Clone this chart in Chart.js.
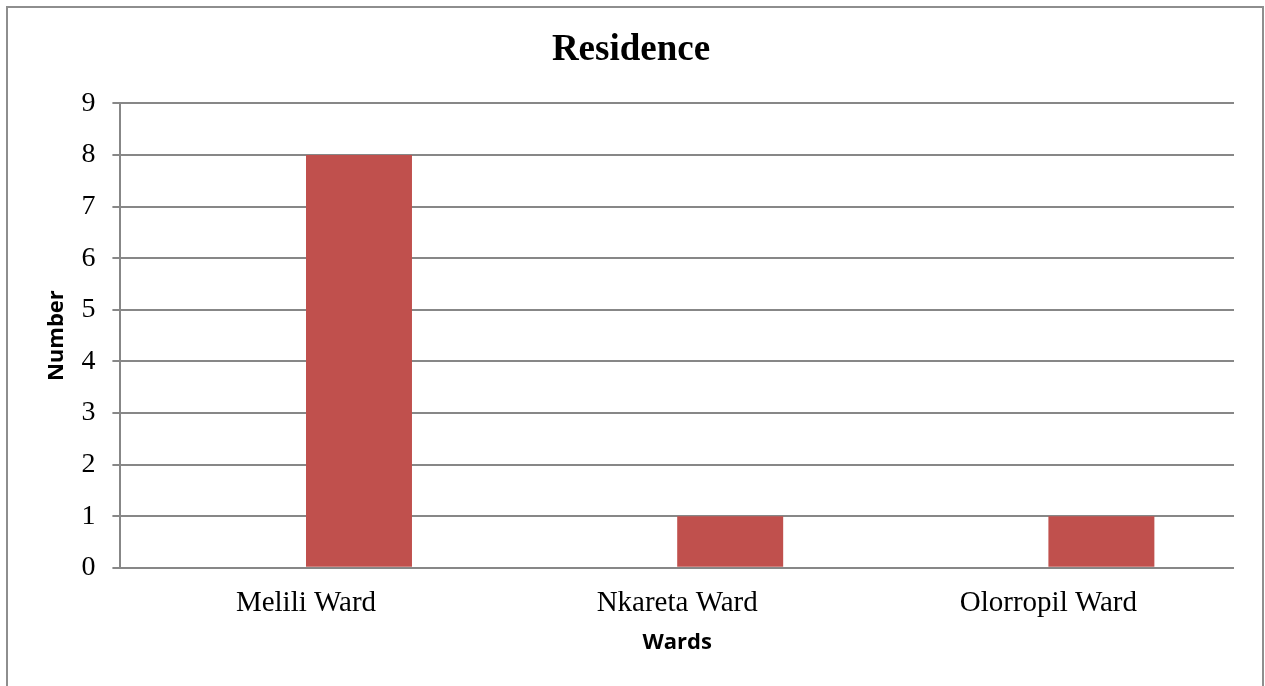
<!DOCTYPE html>
<html>
<head>
<meta charset="utf-8">
<title>Residence</title>
<script src="https://cdn.jsdelivr.net/npm/chart.js@4.4.1/dist/chart.umd.min.js"></script>
<style>
    html, body { margin: 0; padding: 0; background: #fff; overflow: hidden; }
    #frame {
        position: absolute;
        left: 6px;
        top: 6px;
        width: 1254px;
        height: 700px;
        border: 2px solid #8e8e8e;
        background: #fff;
    }
    #chartBox { position: relative; width: 1254px; height: 680px; }
</style>
</head>
<body>
<div id="frame">
    <div id="chartBox"><canvas id="residenceChart"></canvas></div>
</div>
<script>
/* Residence by ward - clustered bar chart (first series is empty, as in the source workbook) */
var wards = ['Melili Ward', 'Nkareta Ward', 'Olorropil Ward'];
var blankSeries = [null, null, null];
var residents = [8, 1, 1];
var yTicks = [0, 1, 2, 3, 4, 5, 6, 7, 8, 9];

var gridGray = '#878787';
var serif = "'Liberation Serif', 'Times New Roman', serif";
var sans = "'Open Sans', 'Liberation Sans', sans-serif";

document.addEventListener('DOMContentLoaded', function () {
    var ctx = document.getElementById('residenceChart');

    new Chart(ctx, {
        type: 'bar',
        data: {
            labels: wards,
            datasets: [
                {
                    label: '',
                    data: blankSeries,
                    backgroundColor: 'rgba(0,0,0,0)',
                    borderWidth: 0
                },
                {
                    label: 'Number',
                    data: residents,
                    backgroundColor: '#C0504D',
                    borderWidth: 0
                }
            ]
        },
        options: {
            responsive: true,
            maintainAspectRatio: false,
            animation: false,
            categoryPercentage: 0.571,
            barPercentage: 1.0,
            layout: { padding: { left: 20, right: 28, top: 0, bottom: 32 } },
            plugins: {
                legend: { display: false },
                tooltip: { enabled: false },
                title: {
                    display: true,
                    text: 'Residence',
                    color: '#000',
                    font: { family: serif, size: 37, weight: 'bold' },
                    padding: { top: 20, bottom: 31 }
                }
            },
            scales: {
                x: {
                    grid: { display: false, drawTicks: false },
                    border: { display: false },
                    ticks: {
                        color: '#000',
                        padding: 18,
                        maxRotation: 0,
                        font: { family: serif, size: 29 }
                    },
                    title: {
                        display: true,
                        text: 'Wards',
                        color: '#000',
                        font: { family: sans, size: 22, weight: 'bold' },
                        padding: { top: -9, bottom: 0 }
                    }
                },
                y: {
                    min: yTicks[0],
                    max: yTicks[yTicks.length - 1],
                    afterBuildTicks: function (scale) {
                        scale.ticks = yTicks.map(function (v) { return { value: v }; });
                    },
                    grid: {
                        color: gridGray,
                        lineWidth: 2,
                        drawTicks: true,
                        tickLength: 8
                    },
                    border: { display: true, color: gridGray, width: 2 },
                    ticks: {
                        color: '#000',
                        padding: 17,
                        font: { family: serif, size: 28 }
                    },
                    title: {
                        display: true,
                        text: 'Number',
                        color: '#000',
                        font: { family: sans, size: 22, weight: 'bold' },
                        padding: { top: 16, bottom: -6 }
                    }
                }
            }
        }
    });
});
</script>
</body>
</html>
